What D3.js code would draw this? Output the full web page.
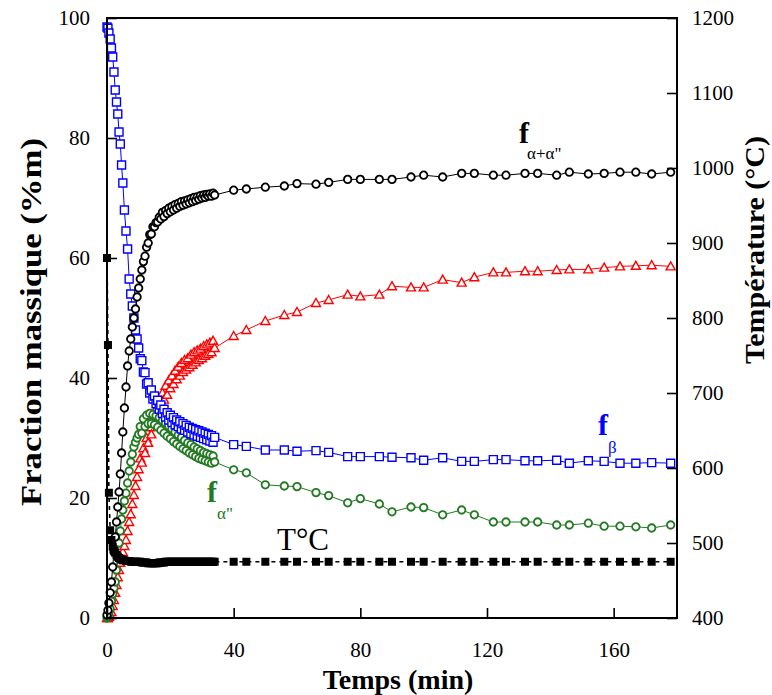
<!DOCTYPE html>
<html><head><meta charset="utf-8">
<script src="https://cdn.jsdelivr.net/npm/d3@7"></script>
<style>body{margin:0;background:#fff}svg{display:block}</style>
</head><body><svg id="c" width="772" height="695"></svg>
<script>
// ---- data ----
const xTicks = [0, 40, 80, 120, 160];
const yLeftTicks = [0, 20, 40, 60, 80, 100];
const yRightTicks = [400, 500, 600, 700, 800, 900, 1000, 1100, 1200];

const tDense = [0,0.3,0.6,1,1.4,1.8,2.2,2.6,3,3.4,3.8,4.2,4.6,5,
 5.5,6,6.5,7,7.5,8,8.5,9,9.5,10,10.5,11,11.5,12,12.5,13,13.5,14,14.5,15,
 15.5,16,16.5,17,17.5,18,18.5,19,19.5,20,20.5,21,21.5,22,22.5,23,23.5,24,24.5,25,
 25.5,26,26.5,27,27.5,28,28.5,29,29.5,30,30.5,31,31.5,32,32.5,33,33.5,34];
const tSparse = [40,44,50,56,60,66,70,76,80,86,90,96,100,106,112,116,122,126,132,136,142,146,152,157,162,167,172,178];

// f alpha+alpha'' (% m)
const fAlphaAlpha2Dense = [0.5,1.3,2.5,4.2,6.0,8.5,11,13.5,16,18.5,21,24,27.5,31,
 35,38.5,42,44.5,46.5,48.5,50,51.5,53.5,55,
 56.5,58,59.4,60.3,61.8,62.5,63.9,64,65.2,65.2,
 65.9,66,66.8,66.5,67.6,66.9,67.9,67.4,68.3,67.7,
 68.6,68.0,68.9,68.3,69.1,68.6,69.4,68.8,69.5,69.0,
 69.7,69.2,69.9,69.4,70.1,69.6,70.2,69.8,70.4,70.0,
 70.5,70.1,70.6,70.3,70.7,70.3,70.8,70.5];
const fAlphaAlpha2Sparse = [71.3,71.5,71.8,72.0,72.4,72.3,72.6,73.1,73.1,73.1,73.1,73.5,73.8,73.5,74.1,74.1,73.8,73.8,74.1,74.1,73.8,74.3,74.0,74.1,74.3,74.3,74.0,74.3];

// f beta
const fBetaDense = [98.5,98.3,97.5,96.5,95,93.5,91,88,86,84,81,79,75.5,72.5,
 68,64.5,61.5,56.5,54,52,50,48,46.5,45,
 43.2,42.9,41.0,40.9,39.0,39.2,37.5,38.0,36.5,37.0,
 35.7,36.3,34.8,35.5,34.1,34.8,33.5,34.2,33.0,33.8,
 32.6,33.4,32.2,33.0,31.9,32.7,31.5,32.4,31.3,32.1,
 31.0,31.8,30.7,31.6,30.5,31.4,30.3,31.2,30.1,31.0,
 29.9,30.8,29.7,30.6,29.5,30.4,29.3,30.1];
const fBetaSparse = [28.9,28.6,28.0,28.0,27.8,27.9,27.6,26.9,26.9,26.9,26.8,26.7,26.3,26.7,26.1,26.1,26.4,26.4,26.2,26.2,26.3,25.8,26.2,26.1,25.8,25.8,25.9,25.8];

// f alpha
const fAlphaDense = [0,0,0.2,0.5,1,2,3,4.2,5.5,6.8,8,9.2,10.2,11,
 12,13,14.5,16,17.3,19,20.5,22,23.5,24.8,
 26.6,25.9,28.3,27.5,30.0,29.2,31.8,30.6,33.3,32.4,
 34.9,33.6,36.1,35.0,37.5,36.4,38.7,37.2,39.6,38.3,
 40.4,39.0,41.2,39.8,41.9,40.4,42.5,41.0,43.0,41.4,
 43.3,41.8,43.9,42.2,44.3,42.6,44.6,43.0,44.9,43.3,
 45.3,43.7,45.6,44.0,45.9,44.3,46.2,45.0];
const fAlphaSparse = [47,48,49.5,50.5,51,52.5,53,53.9,53.6,53.9,55.3,55.1,55.1,56.4,55.9,56.8,57.6,57.6,57.8,57.8,58.0,58.1,58.1,58.4,58.6,58.7,58.8,58.6];

// f alpha''
const fAlpha2Dense = [0,0.2,0.8,1.5,2.8,4,5,6,8,10,12.5,14.5,16.5,18,
 19.5,20.8,22.5,24.5,26,27.3,28.5,29.3,30,30.6,
 31.9,30.8,33.2,31.9,33.8,32.4,34.1,32.4,33.9,32.2,
 33.7,31.8,33.4,31.3,32.9,30.8,32.5,30.3,32.0,29.9,
 31.5,29.4,31.0,29.0,30.5,28.6,30.1,28.2,29.6,27.9,
 29.2,27.5,28.9,27.2,28.5,26.9,28.2,26.6,27.9,26.4,
 27.6,26.2,27.4,26.0,27.2,25.8,27.0,26.0];
const fAlpha2Sparse = [24.7,24.2,22.2,22.0,21.9,20.9,20.4,19.2,19.9,19.0,17.7,18.5,18.4,17.2,18.0,17.2,16.0,16.0,16.0,16.0,15.5,15.5,15.8,15.3,15.3,15.2,15.0,15.5];

// temperature (deg C, right axis)
const tempDense = [880,764,567,517,504,495,490,487,484,482,480,479,478,477,
 477,476,476,476,475,475,475,475,475,475,
 475,474,474,474,474,473,473,473,473,473,
 473,473,474,474,474,474,475,475,475,475,
 475,475,475,475,475,475,475,475,475,475,
 475,475,475,475,475,475,475,475,475,475,
 475,475,475,475,475,475,475,475];
const tempSparse = [475,475,475,475,475,475,475,475,475,475,475,475,475,475,475,475,475,475,475,475,475,475,475,475,475,475,475,475];

// ---- chart ----
const svg = d3.select('#c');
const L = 107, R = 677, T = 18, B = 618;
const x = d3.scaleLinear().domain([0, 180]).range([L, R]);
const yL = d3.scaleLinear().domain([0, 100]).range([B, T]);
const yR = d3.scaleLinear().domain([400, 1200]).range([B, T]);
const serif = '"Liberation Serif","Times New Roman",serif';

function pts(ts, vs) { return ts.map((t, i) => [t, vs[i]]); }
const series = [
  {name:'alpha', data: pts(tDense, fAlphaDense).concat(pts(tSparse, fAlphaSparse)), color:'#ff0000', shape:'tri', y: yL},
  {name:'alpha2', data: pts(tDense, fAlpha2Dense).concat(pts(tSparse, fAlpha2Sparse)), color:'#237a23', shape:'circ', y: yL},
  {name:'beta', data: pts(tDense, fBetaDense).concat(pts(tSparse, fBetaSparse)), color:'#0000ff', shape:'sq', y: yL},
  {name:'aa2', data: pts(tDense, fAlphaAlpha2Dense).concat(pts(tSparse, fAlphaAlpha2Sparse)), color:'#000000', shape:'circ', y: yL},
  {name:'temp', data: pts(tDense, tempDense).concat(pts(tSparse, tempSparse)), color:'#000000', shape:'fsq', y: yR}
];

series.forEach(s => {
  const line = d3.line().x(d => x(d[0])).y(d => s.y(d[1]));
  svg.append('path').attr('d', line(s.data)).attr('fill', 'none')
    .attr('stroke', s.color).attr('stroke-width', s.shape === 'fsq' ? 1.6 : 1)
    .attr('stroke-dasharray', s.shape === 'fsq' ? '4,4' : null);
  const g = svg.append('g');
  const m = g.selectAll('path.m').data(s.data).enter().append('path')
    .attr('transform', d => `translate(${x(d[0])},${s.y(d[1])})`);
  if (s.shape === 'circ') m.attr('d', d3.symbol(d3.symbolCircle, 44)).attr('fill', '#fff').attr('stroke', s.color).attr('stroke-width', 1.8);
  if (s.shape === 'sq') m.attr('d', 'M-4,-4H4V4H-4Z').attr('fill', '#fff').attr('stroke', s.color).attr('stroke-width', 1.4);
  if (s.shape === 'tri') m.attr('d', 'M0,-4.5L4.5,3.5H-4.5Z').attr('fill', '#fff').attr('stroke', s.color).attr('stroke-width', 1.4);
  if (s.shape === 'fsq') m.attr('d', 'M-4,-4H4V4H-4Z').attr('fill', '#000');
});

// frame
svg.append('rect').attr('x', L).attr('y', T).attr('width', R - L).attr('height', B - T)
  .attr('fill', 'none').attr('stroke', '#000').attr('stroke-width', 2);

function styleAxis(g) {
  g.select('.domain').remove();
  g.selectAll('.tick line').attr('stroke', '#000').attr('stroke-width', 1.6);
  g.selectAll('.tick text').attr('font-family', serif).attr('font-size', 21).attr('fill', '#000');
}
const fmt = d3.format('d');
svg.append('g').attr('transform', `translate(${L},0)`)
  .call(d3.axisLeft(yL).tickValues(yLeftTicks).tickFormat(fmt).tickSize(-10).tickPadding(17)).call(styleAxis);
svg.append('g').attr('transform', `translate(${R},0)`)
  .call(d3.axisRight(yR).tickValues(yRightTicks).tickFormat(fmt).tickSize(-10).tickPadding(15)).call(styleAxis);
svg.append('g').attr('transform', `translate(0,${B})`)
  .call(d3.axisBottom(x).tickValues(xTicks).tickFormat(fmt).tickSize(-10).tickPadding(24)).call(styleAxis);

// titles
svg.append('text').attr('transform', 'translate(41,322) rotate(-90)').attr('text-anchor', 'middle')
  .attr('font-family', serif).attr('font-weight', 'bold').attr('font-size', 29)
  .attr('textLength', 368).attr('lengthAdjust', 'spacingAndGlyphs').text('Fraction massique (%m)');
svg.append('text').attr('transform', 'translate(764,250) rotate(-90)').attr('text-anchor', 'middle')
  .attr('font-family', serif).attr('font-weight', 'bold').attr('font-size', 28)
  .attr('textLength', 228).attr('lengthAdjust', 'spacingAndGlyphs').text('Température (°C)');
svg.append('text').attr('x', 398).attr('y', 689).attr('text-anchor', 'middle')
  .attr('font-family', serif).attr('font-weight', 'bold').attr('font-size', 28).text('Temps (min)');

// curve labels
function flabel(xp, yp, sub, color, sx, sy) {
  const t = svg.append('text').attr('font-family', serif).attr('fill', color);
  t.append('tspan').attr('x', xp).attr('y', yp).attr('font-size', 30).attr('font-weight', 'bold').text('f');
  t.append('tspan').attr('x', xp + sx).attr('y', yp + sy).attr('font-size', 17).text(sub);
}
flabel(519, 143, 'α+α"', '#000', 8, 16);
flabel(598, 435, 'β', '#0000ff', 10, 18);
flabel(207, 502, 'α"', '#237a23', 10, 17);
svg.append('text').attr('x', 277).attr('y', 550).attr('font-family', serif).attr('font-size', 31)
  .attr('fill', '#000').text('T°C');
</script></body></html>
